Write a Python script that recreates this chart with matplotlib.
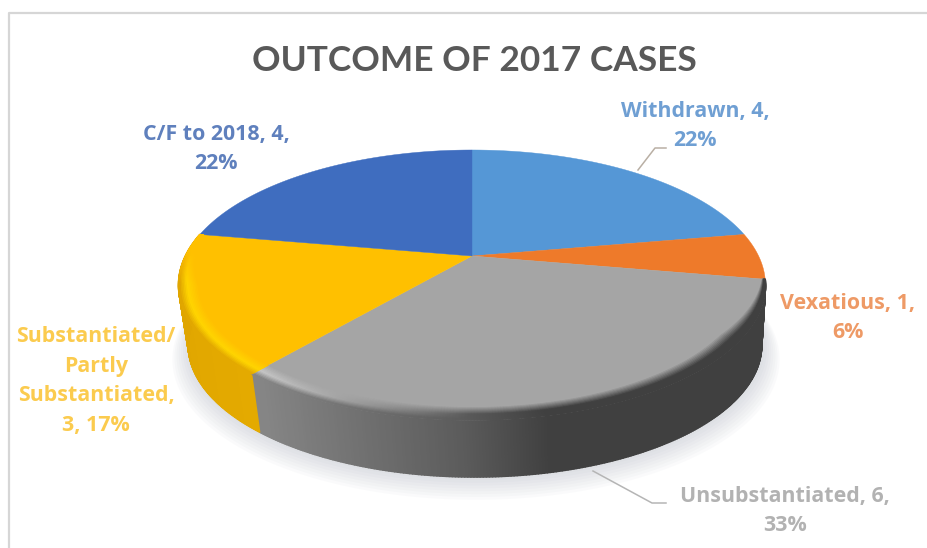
import numpy as np
import matplotlib
matplotlib.use("Agg")
import matplotlib.pyplot as plt
from matplotlib.collections import PolyCollection
from matplotlib.colors import to_rgb

# Case outcomes, clockwise from twelve o'clock
categories = ["Withdrawn", "Vexatious", "Unsubstantiated",
              "Substantiated/\nPartly\nSubstantiated", "C/F to 2018"]
counts = [4, 1, 6, 3, 4]
percent_labels = ["22%", "6%", "33%", "17%", "22%"]
title_text = "OUTCOME OF 2017 CASES"

label_texts = ["Withdrawn, 4,\n22%", "Vexatious, 1,\n6%", "Unsubstantiated, 6,\n33%",
               "Substantiated/\nPartly\nSubstantiated,\n3, 17%", "C/F to 2018, 4,\n22%"]

face_colors = ["#5597D6", "#EE7A2A", "#A5A5A5", "#FFC000", "#3F6DBF"]
text_colors = ["#6F9FD3", "#EE9A66", "#B2B2B2", "#FBCB4E", "#5F80BD"]

W, H = 928, 548
fig = plt.figure(figsize=(W / 100, H / 100), dpi=100, facecolor="white")
ax = fig.add_axes([0, 0, 1, 1])
ax.set_xlim(0, W)
ax.set_ylim(H, 0)
ax.axis("off")

PERSP = 0.215


def project(theta, r=1.0, top=True):
    """Map disc polar coordinates (degrees clockwise from north) to the canvas."""
    t = np.radians(theta)
    x, y = r * np.sin(t), r * np.cos(t)
    w = 1 + PERSP * y
    if top:
        return 472 + 286.6 * x / w, 256 - 128.8 * y / w
    return 475 + 280 * x / w, 316.6 - 125.9 * y / w


def mix(a, b, f):
    a, b = np.array(to_rgb(a)), np.array(to_rgb(b))
    return tuple(a + (b - a) * np.clip(f, 0, 1))


def side_color(i, theta):
    if i == 3:
        return mix("#E4AA00", "#DDA300", (theta - 220) / 60)
    px = project(theta)[0]
    level = np.interp(px, [262, 460, 550], [0x85, 0x5C, 0x40]) / 255
    return (level, level, level)


def rim_highlight(i, theta):
    if i == 3:
        return "#FFD500"
    return mix(side_color(i, theta), "#C8C8C8", (theta - 180) / 40)


def bevel_width(theta):
    """Bevel narrows towards both ends of the visible front rim."""
    return 0.065 * np.clip(min((theta - 100) / 30, (282 - theta) / 30) + 0.15, 0.1, 1)


# Slice boundaries in degrees
total = sum(counts)
edges = np.concatenate([[0], np.cumsum(counts)]) * 360 / total

# Soft cast shadow beneath the disc
ring = np.linspace(0, 360, 361)
for k in range(9):
    gx, gy = project(ring, 1 + 0.007 * k, top=False)
    ax.fill(gx + 1, gy + 1.4 * k, color="#A8ACBC", alpha=0.05, lw=0, zorder=1)
ax.fill(*project(ring, 1.0, top=False), color="#FFFFFF", lw=0, zorder=1)

# Chart frame
ax.plot([9, 9, W], [H, 13, 13], color="#D6D6D6", lw=1.6, zorder=0)

# Side wall of the two slices that face the viewer
for i in (2, 3):
    th = np.linspace(edges[i], edges[i + 1], int((edges[i + 1] - edges[i]) * 2) + 2)
    quads, cols = [], []
    for t0, t1 in zip(th[:-1], th[1:]):
        x0, y0 = project(t0)
        x1, y1 = project(t1)
        x2, y2 = project(t1, top=False)
        x3, y3 = project(t0, top=False)
        quads.append([(x0, y0), (x1, y1), (x2, y2), (x3, y3)])
        cols.append(side_color(i, t0))
    ax.add_collection(PolyCollection(quads, facecolors=cols, edgecolors=cols,
                                     linewidths=1.2, zorder=2))

# Top faces
for i in range(len(counts)):
    th = np.linspace(edges[i], edges[i + 1], 200)
    ax_, ay_ = project(th)
    ax.fill(np.r_[472, ax_], np.r_[256, ay_], color=face_colors[i], lw=0.3, zorder=3)

# Bevel along the front rim, blending the face into the side wall
steps = np.linspace(0, 1, 14)
for i in (2, 3):
    th = np.linspace(edges[i], edges[i + 1], int((edges[i + 1] - edges[i]) * 2) + 2)
    quads, cols = [], []
    for j, (s0, s1) in enumerate(zip(steps[:-1], steps[1:])):
        f = j / (len(steps) - 2)
        for t0, t1 in zip(th[:-1], th[1:]):
            w0, w1 = bevel_width(t0), bevel_width(t1)
            x0, y0 = project(t0, 1 - w0 * (1 - s0))
            x1, y1 = project(t1, 1 - w1 * (1 - s0))
            x2, y2 = project(t1, 1 - w1 * (1 - s1))
            x3, y3 = project(t0, 1 - w0 * (1 - s1))
            quads.append([(x0, y0), (x1, y1), (x2, y2), (x3, y3)])
            hl = rim_highlight(i, t0)
            if f < 0.6:
                c = mix(face_colors[i], hl, f / 0.6)
            else:
                c = mix(hl, side_color(i, t0), (f - 0.6) / 0.4)
            # The upper left of the rim stays in the plain face colour
            c = mix(face_colors[i], c, (272 - t0) / 14)
            cols.append(c)
    ax.add_collection(PolyCollection(quads, facecolors=cols, edgecolors=cols,
                                     linewidths=0.8, zorder=4))

# Leader lines
ax.plot([638, 655, 666], [170, 148, 148], color="#B9AFA4", lw=1.1, zorder=5)
ax.plot([593, 652, 666], [471, 503, 503], color="#B5B5B5", lw=1.1, zorder=5)

# Title and data labels
ax.text(474.5, 61, title_text, ha="center", va="center", family="Lato",
        weight="bold", fontsize=25.4, color="#595959", zorder=6)

label_pos = [(695, 126), (848, 318), (785, 511), (96, 381), (216, 149)]
for txt, col, (x, y) in zip(label_texts, text_colors, label_pos):
    ax.text(x, y, txt, ha="center", va="center", family="Open Sans", weight="bold",
            fontsize=15.4, color=col, linespacing=1.53, zorder=6)

fig.savefig("out.png", dpi=100, facecolor="white")
